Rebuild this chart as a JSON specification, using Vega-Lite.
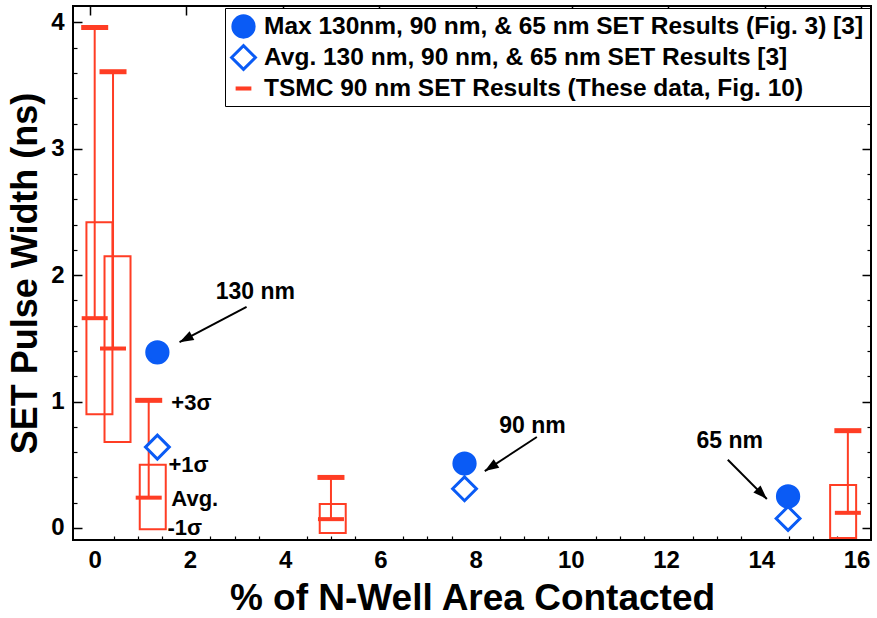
{
  "$schema": "https://vega.github.io/schema/vega-lite/v6.json",
  "width": 798,
  "height": 534,
  "autosize": {"type": "none"},
  "padding": {"left": 73, "top": 6, "right": 6, "bottom": 78},
  "background": "white",
  "config": {
    "view": {"stroke": "black", "strokeWidth": 2},
    "font": "Liberation Sans",
    "axis": {"grid": false, "labelColor": "black", "titleColor": "black", "tickColor": "black", "domain": false}
  },
  "datasets": {
    "boxes": [
      {"pct": 0.10, "lo": 0.90, "hi": 2.42, "med": 1.66, "cap": 3.96},
      {"pct": 0.48, "lo": 0.68, "hi": 2.15, "med": 1.42, "cap": 3.61},
      {"pct": 1.22, "lo": -0.01, "hi": 0.50, "med": 0.24, "cap": 1.01},
      {"pct": 5.00, "lo": -0.04, "hi": 0.19, "med": 0.07, "cap": 0.40},
      {"pct": 15.72, "lo": -0.08, "hi": 0.34, "med": 0.12, "cap": 0.77}
    ],
    "pts": [
      {"pct": 1.40, "ns": 1.39, "series": "Max 130nm, 90 nm, & 65 nm SET Results (Fig. 3) [3]"},
      {"pct": 7.77, "ns": 0.51, "series": "Max 130nm, 90 nm, & 65 nm SET Results (Fig. 3) [3]"},
      {"pct": 14.48, "ns": 0.25, "series": "Max 130nm, 90 nm, & 65 nm SET Results (Fig. 3) [3]"},
      {"pct": 1.40, "ns": 0.64, "series": "Avg. 130 nm, 90 nm, & 65 nm SET Results [3]"},
      {"pct": 7.77, "ns": 0.31, "series": "Avg. 130 nm, 90 nm, & 65 nm SET Results [3]"},
      {"pct": 14.48, "ns": 0.075, "series": "Avg. 130 nm, 90 nm, & 65 nm SET Results [3]"}
    ],
    "nmNotes": [
      {"pct": 3.43, "ns": 1.87, "label": "130 nm"},
      {"pct": 9.18, "ns": 0.81, "label": "90 nm"},
      {"pct": 13.27, "ns": 0.69, "label": "65 nm"}
    ],
    "sigmaNotes": [
      {"pct": 1.69, "ns": 0.99, "label": "+3σ"},
      {"pct": 1.63, "ns": 0.50, "label": "+1σ"},
      {"pct": 1.69, "ns": 0.23, "label": "Avg."},
      {"pct": 1.61, "ns": 0.0, "label": "-1σ"}
    ],
    "arrows": [
      {"tailX": 3.25, "tailY": 1.75, "headX": 1.86, "headY": 1.47},
      {"tailX": 9.27, "tailY": 0.72, "headX": 8.19, "headY": 0.45},
      {"tailX": 13.23, "tailY": 0.54, "headX": 14.04, "headY": 0.23}
    ]
  },
  "layer": [
    {
      "data": {"name": "boxes"},
      "mark": {"type": "bar", "width": 26, "fill": "white", "fillOpacity": 0, "stroke": "#ff3d24", "strokeWidth": 2},
      "encoding": {
        "x": {"field": "pct", "type": "quantitative", "scale": {"domain": [-0.35, 16.2], "nice": false, "zero": false},
          "axis": {"values": [0, 2, 4, 6, 8, 10, 12, 14, 16], "ticks": false, "labelFontSize": 24, "labelFontWeight": "bold", "labelPadding": 8,
            "title": "% of N-Well Area Contacted", "titleFontSize": 37, "titleFontWeight": "bold", "titlePadding": 8}},
        "y": {"field": "lo", "type": "quantitative", "scale": {"domain": [-0.095, 4.13], "nice": false, "zero": false},
          "axis": {"values": [0, 1, 2, 3, 4], "ticks": false, "labelFontSize": 24, "labelFontWeight": "bold", "labelPadding": 9,
            "title": "SET Pulse Width (ns)", "titleFontSize": 36, "titleFontWeight": "bold", "titlePadding": 6}},
        "y2": {"field": "hi"}
      }
    },
    {
      "data": {"name": "boxes"},
      "mark": {"type": "rule", "color": "#ff3d24", "strokeWidth": 2},
      "encoding": {
        "x": {"field": "pct", "type": "quantitative", "scale": {"domain": [-0.35, 16.2], "nice": false, "zero": false},
          "axis": {"values": [0, 2, 4, 6, 8, 10, 12, 14, 16], "labels": false, "tickSize": -9, "tickWidth": 1.5, "title": null}},
        "y": {"field": "med", "type": "quantitative", "scale": {"domain": [-0.095, 4.13], "nice": false, "zero": false},
          "axis": {"orient": "left", "values": [0, 1, 2, 3, 4], "labels": false, "tickSize": -9, "tickWidth": 1.5, "title": null}},
        "y2": {"field": "cap"}
      }
    },
    {
      "data": {"name": "boxes"},
      "mark": {"type": "tick", "orient": "horizontal", "color": "#ff3d24", "size": 27, "thickness": 5, "opacity": 1},
      "encoding": {
        "x": {"field": "pct", "type": "quantitative", "scale": {"domain": [-0.35, 16.2], "nice": false, "zero": false},
          "axis": {"orient": "bottom", "values": [0.5, 1, 1.5, 2.5, 3, 3.5, 4.5, 5, 5.5, 6.5, 7, 7.5, 8.5, 9, 9.5, 10.5, 11, 11.5, 12.5, 13, 13.5, 14.5, 15, 15.5], "labels": false, "tickSize": -4, "tickWidth": 1.2, "title": null}},
        "y": {"field": "cap", "type": "quantitative", "scale": {"domain": [-0.095, 4.13], "nice": false, "zero": false},
          "axis": {"orient": "left", "values": [0.2, 0.4, 0.6, 0.8, 1.2, 1.4, 1.6, 1.8, 2.2, 2.4, 2.6, 2.8, 3.2, 3.4, 3.6, 3.8], "labels": false, "tickSize": -4, "tickWidth": 1.2, "title": null}}
      }
    },
    {
      "data": {"name": "boxes"},
      "mark": {"type": "tick", "orient": "horizontal", "color": "#ff3d24", "size": 26, "thickness": 4, "opacity": 1},
      "encoding": {
        "x": {"field": "pct", "type": "quantitative", "scale": {"domain": [-0.35, 16.2], "nice": false, "zero": false}, "axis": null},
        "y": {"field": "med", "type": "quantitative", "scale": {"domain": [-0.095, 4.13], "nice": false, "zero": false},
          "axis": {"orient": "right", "values": [0, 1, 2, 3, 4], "labels": false, "tickSize": -9, "tickWidth": 1.5, "title": null}}
      }
    },
    {
      "data": {"name": "pts"},
      "mark": {"type": "point", "size": 452, "strokeWidth": 3, "opacity": 1},
      "encoding": {
        "x": {"field": "pct", "type": "quantitative", "scale": {"domain": [-0.35, 16.2], "nice": false, "zero": false}, "axis": null},
        "y": {"field": "ns", "type": "quantitative", "scale": {"domain": [-0.095, 4.13], "nice": false, "zero": false},
          "axis": {"orient": "right", "values": [0.2, 0.4, 0.6, 0.8, 1.2, 1.4, 1.6, 1.8, 2.2, 2.4, 2.6, 2.8, 3.2, 3.4, 3.6, 3.8], "labels": false, "tickSize": -4, "tickWidth": 1.2, "title": null}},
        "shape": {"field": "series", "type": "nominal",
          "scale": {"domain": ["Max 130nm, 90 nm, & 65 nm SET Results (Fig. 3) [3]", "Avg. 130 nm, 90 nm, & 65 nm SET Results [3]", "TSMC 90 nm SET Results (These data, Fig. 10)"],
            "range": ["circle", "M-1.12,0L0,-1.12L1.12,0L0,1.12Z", "M-0.6,-0.05L0.6,-0.05L0.6,0.05L-0.6,0.05Z"]},
          "legend": {"title": null, "orient": "none", "legendX": 152, "legendY": 2, "padding": 6, "strokeColor": "black", "fillColor": "white",
            "labelFontSize": 24.5, "labelFontWeight": "bold", "labelColor": "black", "labelLimit": 800, "labelOffset": 8,
            "symbolSize": 452, "symbolStrokeWidth": 3, "rowPadding": -5}},
        "fill": {"field": "series", "type": "nominal",
          "scale": {"domain": ["Max 130nm, 90 nm, & 65 nm SET Results (Fig. 3) [3]", "Avg. 130 nm, 90 nm, & 65 nm SET Results [3]", "TSMC 90 nm SET Results (These data, Fig. 10)"],
            "range": ["#0a5bf5", "white", "#ff3d24"]}},
        "stroke": {"field": "series", "type": "nominal",
          "scale": {"domain": ["Max 130nm, 90 nm, & 65 nm SET Results (Fig. 3) [3]", "Avg. 130 nm, 90 nm, & 65 nm SET Results [3]", "TSMC 90 nm SET Results (These data, Fig. 10)"],
            "range": ["#0a5bf5", "#0a5bf5", "#ff3d24"]}}
      }
    },
    {
      "data": {"name": "nmNotes"},
      "mark": {"type": "text", "align": "center", "baseline": "middle", "fontSize": 23, "fontWeight": "bold", "color": "black"},
      "encoding": {
        "x": {"field": "pct", "type": "quantitative", "scale": {"domain": [-0.35, 16.2], "nice": false, "zero": false}, "axis": null},
        "y": {"field": "ns", "type": "quantitative", "scale": {"domain": [-0.095, 4.13], "nice": false, "zero": false}, "axis": null},
        "text": {"field": "label"}
      }
    },
    {
      "data": {"name": "sigmaNotes"},
      "mark": {"type": "text", "align": "left", "baseline": "middle", "fontSize": 22, "fontWeight": "bold", "color": "black"},
      "encoding": {
        "x": {"field": "pct", "type": "quantitative", "scale": {"domain": [-0.35, 16.2], "nice": false, "zero": false}, "axis": null},
        "y": {"field": "ns", "type": "quantitative", "scale": {"domain": [-0.095, 4.13], "nice": false, "zero": false}, "axis": null},
        "text": {"field": "label"}
      }
    },
    {
      "data": {"name": "arrows"},
      "mark": {"type": "rule", "color": "black", "strokeWidth": 2},
      "encoding": {
        "x": {"field": "tailX", "type": "quantitative", "scale": {"domain": [-0.35, 16.2], "nice": false, "zero": false}, "axis": null},
        "y": {"field": "tailY", "type": "quantitative", "scale": {"domain": [-0.095, 4.13], "nice": false, "zero": false}, "axis": null},
        "x2": {"field": "headX"},
        "y2": {"field": "headY"}
      }
    },
    {
      "data": {"name": "arrows"},
      "transform": [{"calculate": "atan2((datum.headX - datum.tailX) * 48.2, (datum.headY - datum.tailY) * 126.4) * 180 / PI", "as": "ang"}],
      "mark": {"type": "point", "shape": "M0,0L0.36,1L-0.36,1Z", "size": 784, "filled": true, "color": "black", "opacity": 1},
      "encoding": {
        "x": {"field": "headX", "type": "quantitative", "scale": {"domain": [-0.35, 16.2], "nice": false, "zero": false}, "axis": null},
        "y": {"field": "headY", "type": "quantitative", "scale": {"domain": [-0.095, 4.13], "nice": false, "zero": false}, "axis": null},
        "angle": {"field": "ang", "type": "quantitative", "scale": null}
      }
    }
  ],
  "resolve": {"scale": {"x": "independent", "y": "independent"}, "axis": {"x": "independent", "y": "independent"}}
}
